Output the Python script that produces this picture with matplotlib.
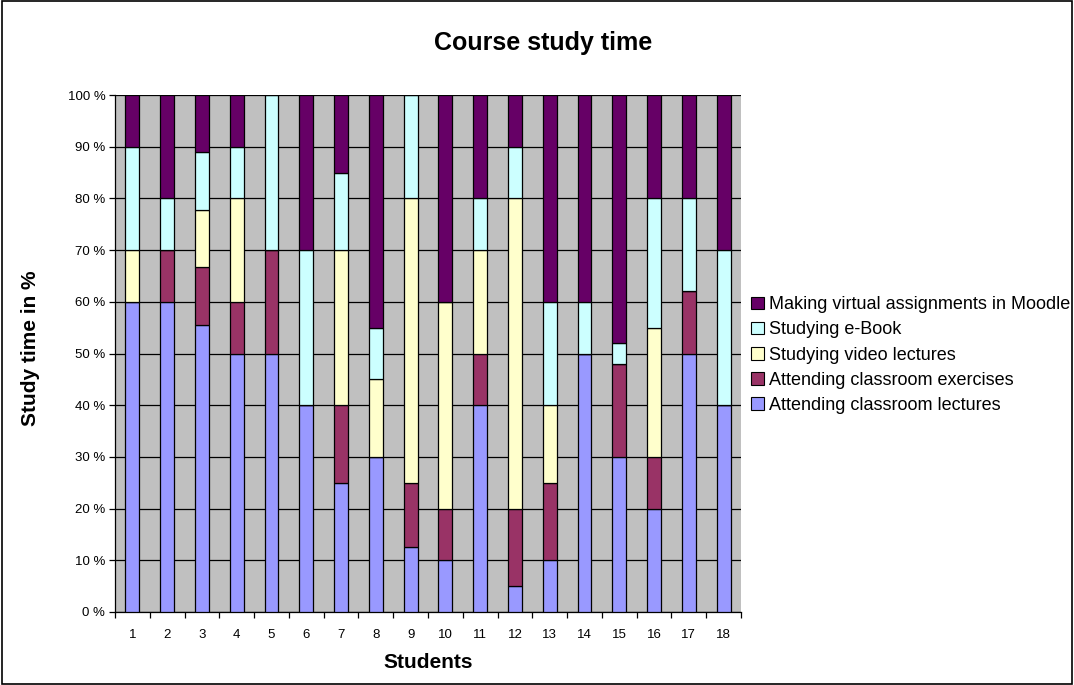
import numpy as np
import matplotlib
matplotlib.use("Agg")
import matplotlib.pyplot as plt
from matplotlib.patches import Rectangle, Patch

plt.rcParams["font.family"] = ["Liberation Sans", "DejaVu Sans"]

# --------------------
# data: share of study time per student (%)
# --------------------
students = [str(i) for i in range(1, 19)]
lectures = [60, 60, 55.6, 50, 50, 40, 25, 30, 12.5, 10, 40, 5, 10, 50, 30, 20, 50, 40]
exercises = [0, 10, 11.1, 10, 20, 0, 15, 0, 12.5, 10, 10, 15, 15, 0, 18, 10, 12, 0]
video = [10, 0, 11.1, 20, 0, 0, 30, 15, 55, 40, 20, 60, 15, 0, 0, 25, 0, 0]
ebook = [20, 10, 11.1, 10, 30, 30, 15, 10, 20, 0, 10, 10, 20, 10, 4, 25, 18, 30]
moodle = [10, 20, 11.1, 10, 0, 30, 15, 45, 0, 40, 20, 10, 40, 40, 48, 20, 20, 30]

series = [
    ("Attending classroom lectures", lectures, "#9999FF"),
    ("Attending classroom exercises", exercises, "#993366"),
    ("Studying video lectures", video, "#FFFFCC"),
    ("Studying e-Book", ebook, "#CCFFFF"),
    ("Making virtual assignments in Moodle", moodle, "#660066"),
]

# --------------------
# plot
# --------------------
fig = plt.figure(figsize=(10.74, 6.85), dpi=100)
ax = fig.add_axes([115 / 1074, 73 / 685, 626 / 1074, 517 / 685])
ax.set_facecolor("#C0C0C0")

x = np.arange(len(students))
bottom = np.zeros(len(students))
handles = []
for name, vals, col in series:
    vals = np.array(vals, dtype=float)
    ax.bar(x, vals, width=0.4, bottom=bottom, color=col,
           edgecolor="black", linewidth=0.9, zorder=3)
    bottom += vals
    handles.append(Patch(facecolor=col, edgecolor="black", linewidth=0.8, label=name))

ax.set_xlim(-0.5, len(students) - 0.5)
ax.set_ylim(0, 100)

ax.set_yticks(np.arange(0, 101, 10))
ax.set_yticklabels([f"{v} %" for v in range(0, 101, 10)])
ax.yaxis.grid(True, color="black", linewidth=0.9, zorder=1)
ax.set_axisbelow(True)

ax.set_xticks(x)
ax.set_xticklabels(students)
ax.set_xticks(np.arange(-0.5, len(students), 1), minor=True)
ax.tick_params(axis="x", which="major", length=0, pad=12, labelsize=9.5)
ax.tick_params(axis="x", which="minor", length=4, width=0.9, direction="out")
ax.tick_params(axis="y", length=4, width=0.9, direction="out", labelsize=9.5, pad=3)

for s in ["top", "right"]:
    ax.spines[s].set_visible(False)
ax.spines["left"].set_linewidth(0.9)
ax.spines["bottom"].set_linewidth(0.9)

ax.set_xlabel("Students", fontsize=15, fontweight="bold", va="center")
ax.xaxis.set_label_coords(0.5, (612 - 662) / 517)
ax.set_ylabel("Study time in %", fontsize=15, fontweight="bold", va="center")
ax.yaxis.set_label_coords((30 - 115) / 626, 0.51)

fig.text(543 / 1074, 1 - 43 / 685, "Course study time", ha="center", va="center",
         fontsize=18, fontweight="bold")

ax.legend(handles=handles[::-1], loc="center left", bbox_to_anchor=(751 / 1074, 1 - 355 / 685),
          bbox_transform=fig.transFigure, frameon=False, fontsize=13,
          handlelength=0.7, handleheight=0.7, handletextpad=0.3, labelspacing=0.45,
          borderaxespad=0, borderpad=0)

# outer chart border
fig.patches.append(Rectangle((0.002, 0.002), 0.996, 0.996, transform=fig.transFigure,
                             fill=False, edgecolor="black", linewidth=1.2))

fig.savefig("out.png", dpi=100)
